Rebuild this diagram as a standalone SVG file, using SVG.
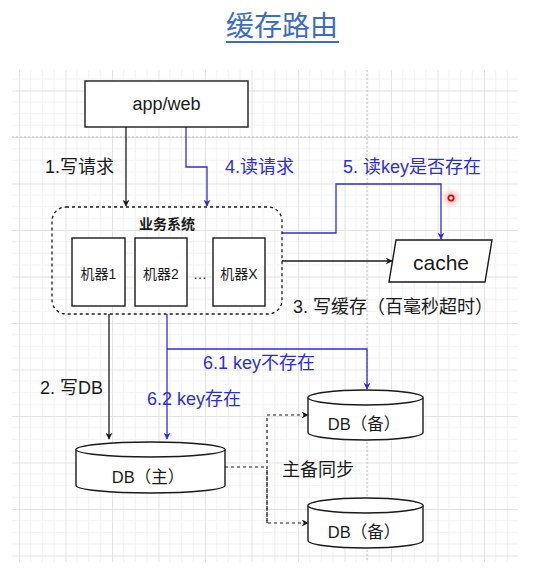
<svg xmlns="http://www.w3.org/2000/svg" width="543" height="572" viewBox="0 0 543 572">
<defs>
<style>
text{font-family:"Liberation Sans","Noto Sans CJK SC",sans-serif;}
.box{fill:#fff;stroke:#1a1a1a;stroke-width:1.4;}
.lbl{font-size:18px;fill:#1a1a1a;}
.blue{fill:#2d2dd6;}
.c{stroke:#1a1a1a;stroke-width:1.3;fill:none;}
.cb{stroke:#2d2dd6;stroke-width:1.3;fill:none;}
.cd{stroke:#1a1a1a;stroke-width:1.2;fill:none;stroke-dasharray:3 3;}
</style>
<pattern id="grid" patternUnits="userSpaceOnUse" x="19" y="44" width="46.5" height="46.5">
<rect width="46.5" height="46.5" fill="#fff"/>
<path d="M11.625 0V46.5M23.25 0V46.5M34.875 0V46.5M0 11.625H46.5M0 23.25H46.5M0 34.875H46.5" stroke="#f1f1f1" stroke-width="1"/>
<path d="M0.5 0V46.5M0 0.5H46.5" stroke="#e3e3e3" stroke-width="1"/>
</pattern>
<marker id="ab" viewBox="0 0 10 10" refX="9" refY="5" markerWidth="7" markerHeight="7" orient="auto" markerUnits="userSpaceOnUse">
<path d="M0,0 L10,5 L0,10 L3,5 z" fill="#1a1a1a"/>
</marker>
<marker id="au" viewBox="0 0 10 10" refX="9" refY="5" markerWidth="7" markerHeight="7" orient="auto" markerUnits="userSpaceOnUse">
<path d="M0,0 L10,5 L0,10 L3,5 z" fill="#2d2dd6"/>
</marker>
<radialGradient id="glow">
<stop offset="0" stop-color="#ff8080" stop-opacity="0.7"/>
<stop offset="1" stop-color="#ffb0b0" stop-opacity="0"/>
</radialGradient>
</defs>
<rect width="543" height="572" fill="#fff"/>
<rect x="12" y="70" width="506" height="492" fill="url(#grid)"/>
<path d="M12 137H518M367 70V562" stroke="#bdbdbd" stroke-width="1" stroke-dasharray="2 2" fill="none"/>

<g id="title">
<text x="282" y="36" font-size="28" text-anchor="middle" fill="#3e6dbf">缓存路由</text>
<line x1="226" y1="42" x2="339" y2="42" stroke="#3e6dbf" stroke-width="1.8"/>
</g>

<g id="connectors">
<path class="c" d="M126,127V206" marker-end="url(#ab)"/>
<path class="cb" d="M186,127V167H207V206" marker-end="url(#au)"/>
<path class="cb" d="M282,233H336V184H441V239" marker-end="url(#au)"/>
<path class="c" d="M282,261H392" marker-end="url(#ab)"/>
<path class="c" d="M109,314V439" marker-end="url(#ab)"/>
<path class="cb" d="M167,314V439" marker-end="url(#au)"/>
<path class="cb" d="M167,349H367V389" marker-end="url(#au)"/>
<path class="cd" d="M225,467H267"/>
<path class="cd" d="M267,523V415H308" marker-end="url(#ab)"/>
<path class="cd" d="M267,470V523H308" marker-end="url(#ab)"/>
</g>

<g id="labels">
<text class="lbl" x="45" y="173">1.写请求</text>
<text class="lbl blue" x="225" y="173">4.读请求</text>
<text class="lbl blue" x="343" y="173">5. 读key是否存在</text>
<text class="lbl" x="293" y="313">3. 写缓存（百毫秒超时）</text>
<text class="lbl blue" x="203" y="369">6.1 key不存在</text>
<text class="lbl" x="40" y="394" font-size="16">2. 写DB</text>
<text class="lbl blue" x="147" y="405">6.2 key存在</text>
<text class="lbl" x="282" y="476" font-size="16">主备同步</text>
</g>

<g id="appweb">
<rect class="box" x="85" y="81" width="163" height="46"/>
<text x="166.5" y="110" font-size="18" text-anchor="middle" fill="#1a1a1a">app/web</text>
</g>

<g id="biz">
<rect x="52" y="207" width="230" height="107" rx="14" fill="none" stroke="#1a1a1a" stroke-width="1.3" stroke-dasharray="3 3"/>
<text x="167" y="229" font-size="14" font-weight="bold" text-anchor="middle" fill="#1a1a1a">业务系统</text>
</g>

<g id="m1">
<rect class="box" x="72" y="238" width="53" height="68"/>
<text x="98.5" y="279" font-size="14" text-anchor="middle" fill="#1a1a1a">机器1</text>
</g>
<g id="m2">
<rect class="box" x="135" y="238" width="52" height="68"/>
<text x="161" y="279" font-size="14" text-anchor="middle" fill="#1a1a1a">机器2</text>
</g>
<g id="dots">
<text x="200" y="279" font-size="14" text-anchor="middle" fill="#1a1a1a">…</text>
</g>
<g id="mx">
<rect class="box" x="213" y="238" width="52" height="68"/>
<text x="239" y="279" font-size="14" text-anchor="middle" fill="#1a1a1a">机器X</text>
</g>

<g id="cache">
<path class="box" d="M396,240H492L485,282H389Z"/>
<text x="441" y="270" font-size="21" text-anchor="middle" fill="#1a1a1a">cache</text>
</g>

<g id="dbmain">
<path class="box" d="M76,449.5V485.5A74.5,7.5 0 0 0 225,485.5V449.5A74.5,7.5 0 0 0 76,449.5Z"/>
<path class="box" d="M76,449.5A74.5,7.5 0 0 0 225,449.5"/>
<text x="148" y="483" font-size="16.5" text-anchor="middle" fill="#1a1a1a">DB（主）</text>
</g>

<g id="dbbak1">
<path class="box" d="M308,397.5V432.5A57.5,7.5 0 0 0 423,432.5V397.5A57.5,7.5 0 0 0 308,397.5Z"/>
<path class="box" d="M308,397.5A57.5,7.5 0 0 0 423,397.5"/>
<text x="364" y="430" font-size="16.5" text-anchor="middle" fill="#1a1a1a">DB（备）</text>
</g>

<g id="dbbak2">
<path class="box" d="M308,505.5V540.5A57.5,7.5 0 0 0 423,540.5V505.5A57.5,7.5 0 0 0 308,505.5Z"/>
<path class="box" d="M308,505.5A57.5,7.5 0 0 0 423,505.5"/>
<text x="364" y="538" font-size="16.5" text-anchor="middle" fill="#1a1a1a">DB（备）</text>
</g>

<g id="cursor">
<circle cx="451" cy="198" r="11" fill="url(#glow)"/>
<circle cx="451" cy="198" r="2.6" fill="#fff" stroke="#e00000" stroke-width="1.8"/>
</g>
</svg>
